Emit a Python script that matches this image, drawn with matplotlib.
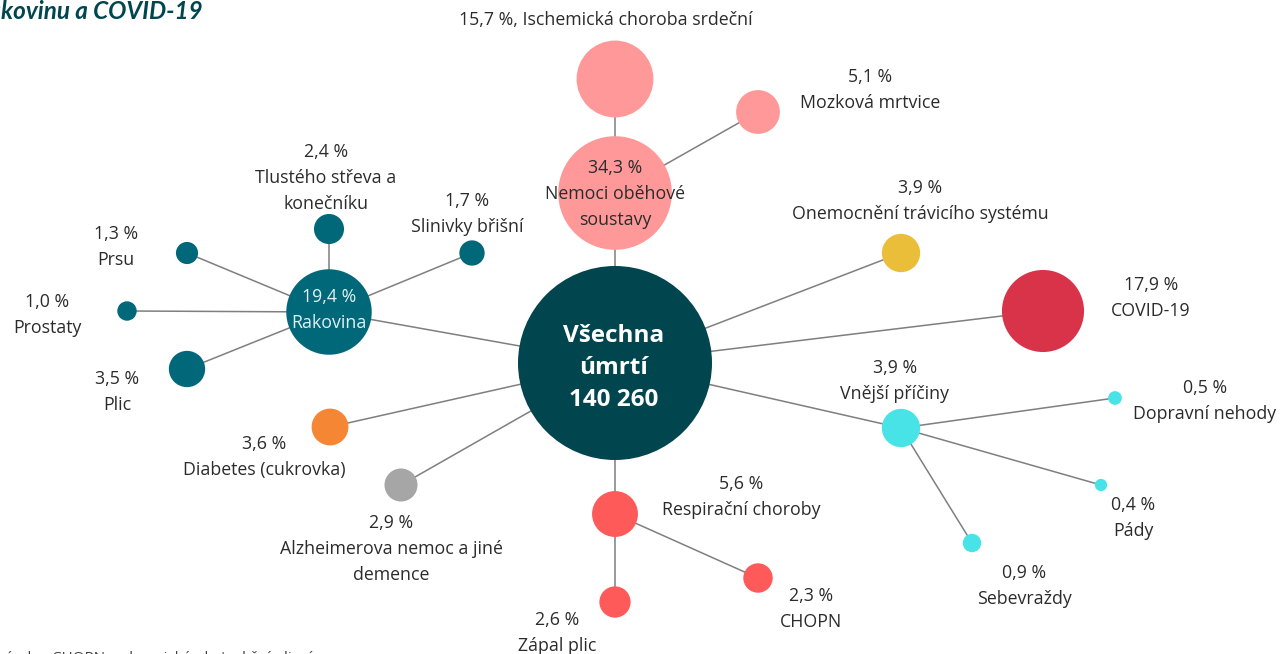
import matplotlib.pyplot as plt
from matplotlib.patches import Circle

# --- data ---------------------------------------------------------------
total_deaths = "140 260"
node_names = [
    "Všechna\númrtí", "Nemoci oběhové\nsoustavy", "Ischemická choroba srdeční",
    "Mozková mrtvice", "Onemocnění trávicího systému", "COVID-19",
    "Vnější příčiny", "Dopravní nehody", "Pády", "Sebevraždy",
    "Respirační choroby", "CHOPN", "Zápal plic",
    "Alzheimerova nemoc a jiné\ndemence", "Diabetes (cukrovka)", "Rakovina",
    "Plic", "Prostaty", "Prsu", "Tlustého střeva a\nkonečníku", "Slinivky břišní",
]
node_share = [100.0, 34.3, 15.7, 5.1, 3.9, 17.9, 3.9, 0.5, 0.4, 0.9,
              5.6, 2.3, 2.6, 2.9, 3.6, 19.4, 3.5, 1.0, 1.3, 2.4, 1.7]
node_parent = [None, 0, 1, 1, 0, 0, 0, 6, 6, 6, 0, 10, 10, 0, 0, 0,
               15, 15, 15, 15, 15]

# --- layout (pixels, y down) --------------------------------------------
node_xy = [(615, 363), (615, 193), (615, 79), (758, 112), (901, 253),
           (1043, 311), (901, 428), (1115, 398), (1101, 485), (972, 543),
           (615, 514), (758, 578), (615, 602), (401, 485), (330, 427),
           (329, 312), (187, 369), (127, 311), (187, 253), (329, 229),
           (472, 253)]
label_xy = [(614, 368), (615, 194), (606, 20), (870, 90), (920, 201),
            (1151, 298), (895, 381), (1205, 401), (1133, 518), (1024, 586),
            (741, 497), (811, 609), (557, 633), (391, 549), (264, 457),
            (329, 310), (117, 392), (47, 315), (116, 247), (326, 178),
            (467, 214)]
node_color = ["#01454f", "#ff9999", "#ff9999", "#ff9999", "#ebbe3a",
              "#d9334a", "#48e3e6", "#48e3e6", "#48e3e6", "#48e3e6",
              "#ff5a5a", "#ff5a5a", "#ff5a5a", "#a6a6a6", "#f58634",
              "#006878", "#006878", "#006878", "#006878", "#006878",
              "#006878"]
R_MAX = 97  # radius of the 100 % bubble, px

plt.rcParams['font.family'] = ['Open Sans', 'DejaVu Sans']

fig = plt.figure(figsize=(12.8, 6.54), dpi=100)
ax = fig.add_axes([0, 0, 1, 1])
ax.set_xlim(0, 1280)
ax.set_ylim(654, 0)
ax.set_aspect('equal')
ax.axis('off')

for i, p in enumerate(node_parent):
    if p is None:
        continue
    (x0, y0), (x1, y1) = node_xy[i], node_xy[p]
    ax.plot([x0, x1], [y0, y1], color="#7f7f7f", lw=1.1, zorder=1)

for i, share in enumerate(node_share):
    r = R_MAX * (share / 100) ** 0.5
    ax.add_patch(Circle(node_xy[i], r, color=node_color[i], lw=0, zorder=2))


def pct(v):
    return f"{v:.1f}".replace(".", ",") + " %"


text_kw = dict(ha="center", va="center", fontsize=12.8, color="#2b2b2b",
               linespacing=1.6, zorder=3)
for i, name in enumerate(node_names):
    x, y = label_xy[i]
    if i == 0:
        ax.text(x, y, f"{name}\n{total_deaths}", ha="center", va="center",
                fontsize=17.5, fontweight="bold", color="white",
                linespacing=1.45, zorder=3)
    elif i == 2:
        ax.text(x, y, f"{pct(node_share[i])}, {name}", **text_kw)
    elif i == 15:
        ax.text(x, y, f"{pct(node_share[i])}\n{name}",
                **{**text_kw, "color": "#e3f1f2"})
    else:
        ax.text(x, y, f"{pct(node_share[i])}\n{name}", **text_kw)

ax.text(203, 19, "Úmrtí na rakovinu a COVID-19", ha="right", va="baseline",
        fontsize=17.5, fontweight="bold", style="italic", color="#00464f",
        family=["Lato", "DejaVu Sans"])
ax.text(-30, 651, "Poznámka: CHOPN = chronická obstrukční plicní nemoc",
        ha="left", va="top", fontsize=11, color="#444444")

fig.savefig("out.png", dpi=100)
